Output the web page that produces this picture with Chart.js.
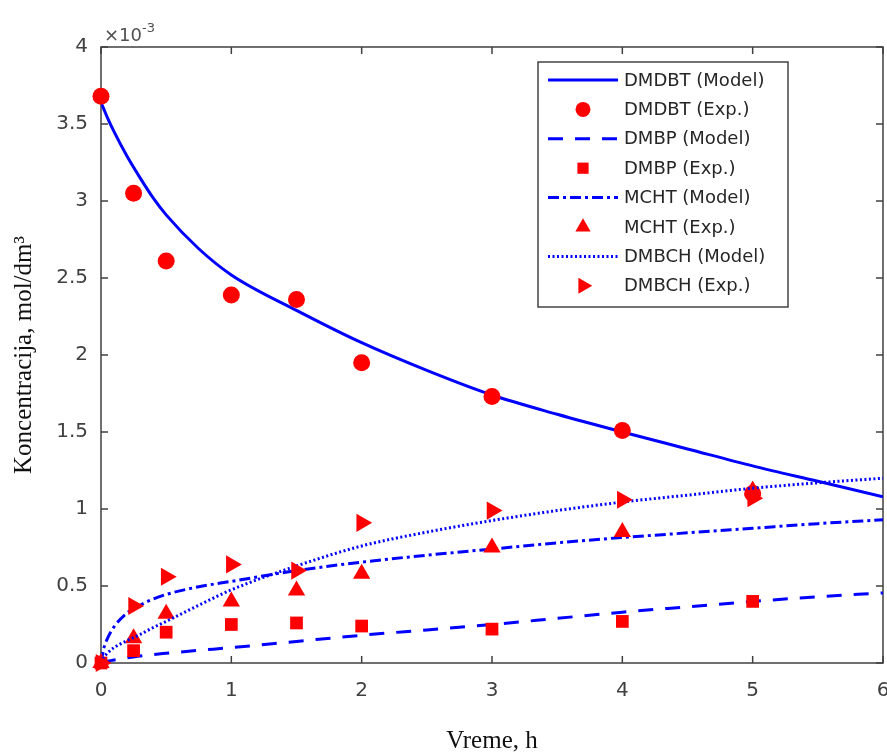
<!DOCTYPE html>
<html>
<head>
<meta charset="utf-8">
<script src="https://cdn.jsdelivr.net/npm/chart.js@4.4.1/dist/chart.umd.min.js"></script>
<style>
  html, body { margin: 0; padding: 0; background: #fff; }
  canvas { display: block; }
</style>
</head>
<body>
<canvas id="konc" width="887" height="755"></canvas>
<script>
// eksperimentalne tacke (vreme, h ; koncentracija x10^-3 mol/dm3)
const tExp = [0, 0.25, 0.5, 1, 1.5, 2, 3, 4, 5];
const dmdbtExp = [3.68, 3.05, 2.61, 2.39, 2.36, 1.95, 1.73, 1.51, 1.10];
const dmbpExp  = [0, 0.08, 0.20, 0.25, 0.26, 0.24, 0.22, 0.27, 0.40];
const mchtExp  = [0, 0.16, 0.32, 0.40, 0.47, 0.58, 0.75, 0.85, 1.12];
const dmbchExp = [0, 0.37, 0.56, 0.64, 0.60, 0.91, 0.99, 1.06, 1.07];

// model (ocitano sa krivih)
const tModel     = [0, 0.02, 0.05, 0.1, 0.2, 0.3, 0.4, 0.5, 0.75, 1, 1.5, 2, 2.5, 3, 3.5, 4, 4.5, 5, 5.5, 6];
const dmdbtModel = [3.64, 3.60, 3.54, 3.45, 3.29, 3.15, 3.02, 2.91, 2.69, 2.52, 2.29, 2.08, 1.90, 1.74, 1.615, 1.50, 1.39, 1.28, 1.18, 1.08];
const dmbpModel  = [0, 0.006, 0.012, 0.02, 0.033, 0.045, 0.055, 0.063, 0.082, 0.10, 0.14, 0.18, 0.215, 0.25, 0.29, 0.33, 0.365, 0.40, 0.43, 0.455];
const mchtModel  = [0, 0.09, 0.16, 0.235, 0.325, 0.375, 0.415, 0.445, 0.495, 0.53, 0.60, 0.655, 0.70, 0.74, 0.78, 0.815, 0.845, 0.875, 0.905, 0.93];
const dmbchModel = [0, 0.035, 0.065, 0.10, 0.145, 0.185, 0.23, 0.27, 0.375, 0.475, 0.63, 0.76, 0.85, 0.925, 0.99, 1.045, 1.09, 1.135, 1.17, 1.20];

const xTicks = [0, 1, 2, 3, 4, 5, 6];
const yTicks = [0, 0.5, 1, 1.5, 2, 2.5, 3, 3.5, 4];

const BLUE = '#0000ff';
const RED = '#ff0000';
const PLOT_RIGHT = 883;

const pts = (xs, ys) => xs.map((x, i) => ({ x: x, y: ys[i] }));

function modelSet(label, ys, dash) {
  return {
    label: label,
    data: pts(tModel, ys),
    showLine: true,
    borderColor: BLUE,
    backgroundColor: BLUE,
    borderWidth: 3,
    borderDash: dash,
    pointRadius: 0,
    cubicInterpolationMode: 'monotone'
  };
}

function expSet(label, ys, style, r, rot) {
  return {
    label: label,
    data: pts(tExp, ys),
    showLine: false,
    backgroundColor: RED,
    borderColor: RED,
    pointStyle: style,
    pointRadius: r,
    pointRotation: rot || 0,
    pointBorderWidth: 0,
    clip: false
  };
}

const datasets = [
  modelSet('DMDBT (Model)', dmdbtModel, []),
  expSet('DMDBT (Exp.)', dmdbtExp, 'circle', 8.5),
  modelSet('DMBP (Model)', dmbpModel, [15, 12]),
  expSet('DMBP (Exp.)', dmbpExp, 'rect', 9),
  modelSet('MCHT (Model)', mchtModel, [11, 4, 3, 4]),
  expSet('MCHT (Exp.)', mchtExp, 'triangle', 10),
  modelSet('DMBCH (Model)', dmbchModel, [2, 2.5]),
  expSet('DMBCH (Exp.)', dmbchExp, 'triangle', 10.5, 90)
];
// kasnije serije crtaju se preko ranijih (kao u MATLAB-u)
datasets.forEach((ds, i) => { ds.order = datasets.length - i; });

// zadnja oznaka "6" sme da izadje van platna, pa desnu ivicu vracamo nazad
const edgePlugin = {
  id: 'edge',
  afterLayout(chart) {
    const a = chart.chartArea;
    const xs = chart.scales.x;
    a.right = PLOT_RIGHT;
    a.width = a.right - a.left;
    xs.right = PLOT_RIGHT;
    xs.width = xs.right - xs.left;
    xs.configure();
  }
};

// okvir grafika sa crticama ka unutra i oznakom x10^-3
const framePlugin = {
  id: 'frame',
  beforeDatasetsDraw(chart) {
    const { ctx, chartArea: a, scales: { x, y } } = chart;
    ctx.save();
    ctx.strokeStyle = '#404040';
    ctx.lineWidth = 1.5;
    ctx.strokeRect(a.left, a.top, a.right - a.left, a.bottom - a.top);
    ctx.beginPath();
    xTicks.forEach(v => {
      const px = x.getPixelForValue(v);
      ctx.moveTo(px, a.bottom); ctx.lineTo(px, a.bottom - 7);
      ctx.moveTo(px, a.top); ctx.lineTo(px, a.top + 7);
    });
    yTicks.forEach(v => {
      const py = y.getPixelForValue(v);
      ctx.moveTo(a.left, py); ctx.lineTo(a.left + 7, py);
      ctx.moveTo(a.right, py); ctx.lineTo(a.right - 7, py);
    });
    ctx.stroke();

    ctx.fillStyle = '#505050';
    ctx.textBaseline = 'alphabetic';
    ctx.font = '18px "DejaVu Sans"';
    ctx.fillText('\u00d710', a.left + 3, a.top - 6);
    const w = ctx.measureText('\u00d710').width;
    ctx.font = '13px "DejaVu Sans"';
    ctx.fillText('-3', a.left + 3 + w, a.top - 15);
    ctx.restore();
  }
};

// legenda u gornjem desnom uglu
const legendPlugin = {
  id: 'boxLegend',
  afterDatasetsDraw(chart) {
    const ctx = chart.ctx;
    const bx = 538, by = 62, bw = 250, bh = 245;
    ctx.save();
    ctx.fillStyle = '#fff';
    ctx.fillRect(bx, by, bw, bh);
    ctx.strokeStyle = '#444';
    ctx.lineWidth = 1.5;
    ctx.strokeRect(bx, by, bw, bh);

    chart.data.datasets.forEach((ds, i) => {
      const yy = by + 18 + i * 29.4;
      if (ds.showLine) {
        ctx.setLineDash(ds.borderDash);
        ctx.strokeStyle = ds.borderColor;
        ctx.lineWidth = ds.borderWidth;
        ctx.beginPath();
        ctx.moveTo(bx + 10, yy);
        ctx.lineTo(bx + 80, yy);
        ctx.stroke();
        ctx.setLineDash([]);
      } else {
        ctx.fillStyle = ds.backgroundColor;
        Chart.helpers.drawPoint(ctx, {
          pointStyle: ds.pointStyle,
          rotation: ds.pointRotation,
          radius: ds.pointRadius * 0.88,
          borderWidth: 0
        }, bx + 45, yy);
      }
      ctx.fillStyle = '#262626';
      ctx.font = '18px "DejaVu Sans"';
      ctx.textBaseline = 'middle';
      ctx.fillText(ds.label, bx + 86, yy + 1);
    });
    ctx.restore();
  }
};

new Chart(document.getElementById('konc'), {
  type: 'scatter',
  data: { datasets: datasets },
  plugins: [edgePlugin, framePlugin, legendPlugin],
  options: {
    responsive: false,
    animation: false,
    events: [],
    layout: { padding: { left: 0, top: 47, right: 4, bottom: 0 } },
    plugins: {
      legend: { display: false },
      tooltip: { enabled: false }
    },
    scales: {
      x: {
        type: 'linear',
        min: 0,
        max: 6,
        grid: { display: false, drawTicks: false },
        border: { display: false },
        afterBuildTicks: s => { s.ticks = xTicks.map(v => ({ value: v })); },
        afterFit: s => { s.height = 92; },
        ticks: {
          color: '#404040',
          font: { family: 'DejaVu Sans', size: 20 },
          padding: 16,
          maxRotation: 0,
          callback: v => String(v)
        },
        title: {
          display: true,
          text: 'Vreme, h',
          color: '#111',
          font: { family: 'Liberation Serif', size: 25 },
          padding: { top: 0, bottom: -1 }
        }
      },
      y: {
        type: 'linear',
        min: 0,
        max: 4,
        grid: { display: false, drawTicks: false },
        border: { display: false },
        afterBuildTicks: s => { s.ticks = yTicks.map(v => ({ value: v })); },
        afterFit: s => { s.width = 101; },
        ticks: {
          color: '#404040',
          font: { family: 'DejaVu Sans', size: 20 },
          padding: 13,
          callback: v => String(v)
        },
        title: {
          display: true,
          text: 'Koncentracija, mol/dm\u00b3',
          color: '#111',
          font: { family: 'Liberation Serif', size: 25 },
          padding: { top: 9, bottom: 0 }
        }
      }
    }
  }
});
</script>
</body>
</html>
